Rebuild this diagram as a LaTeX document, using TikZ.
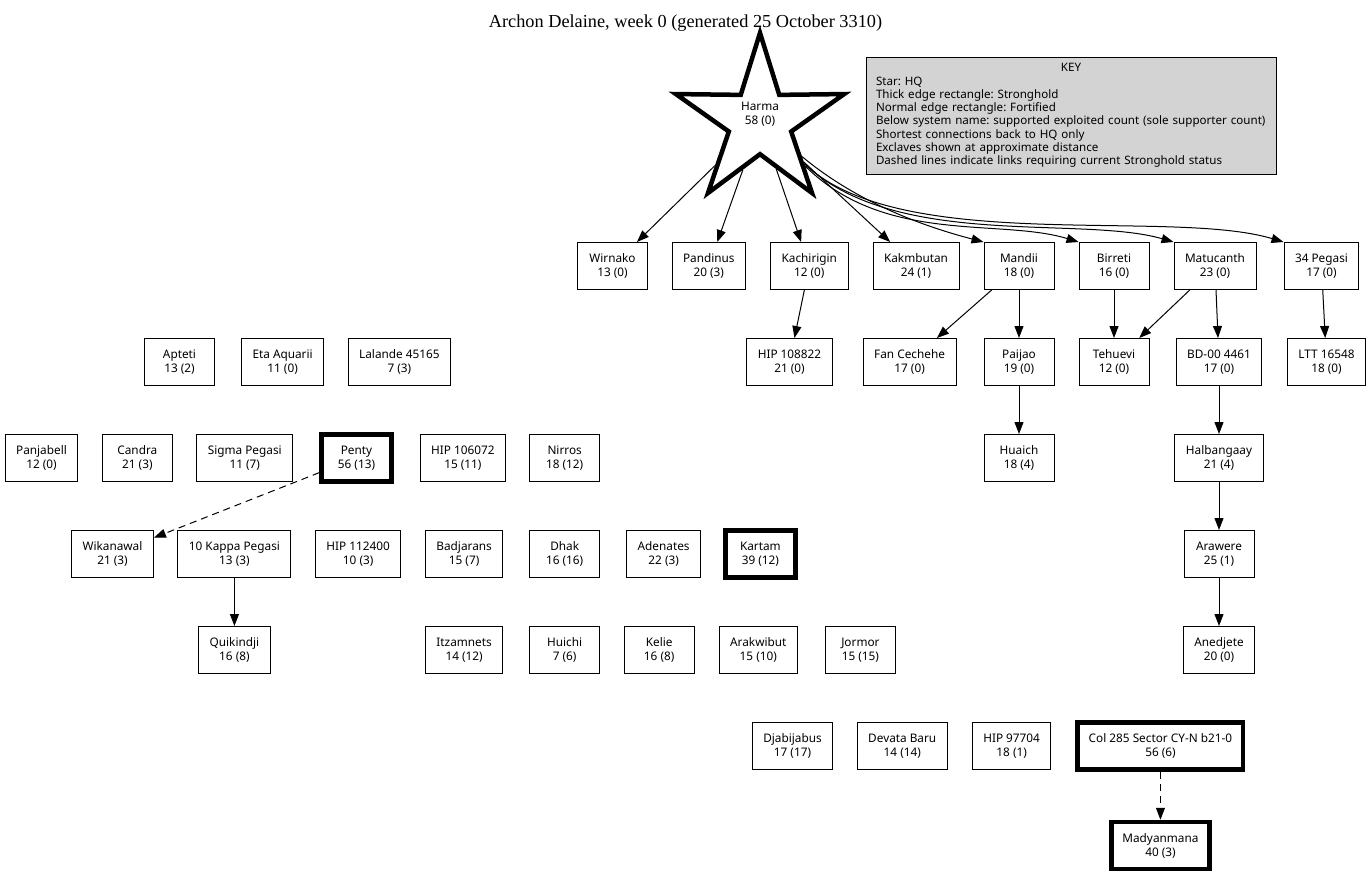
\documentclass[tikz,border=0pt]{standalone}
\usepackage{fontspec}
\setmainfont{Liberation Serif}
\newfontfamily\sysfamily{Noto Sans}
\usepackage{xcolor}
\usepackage{tikz}
\usetikzlibrary{arrows.meta,positioning,shapes.geometric}
\definecolor{keygray}{HTML}{D3D3D3}
\newcommand{\sysfont}{\sysfamily\fontsize{11.8}{14}\selectfont}
\newcommand{\keyfont}{\sysfamily\fontsize{11.6}{13.3}\selectfont\frenchspacing}
\tikzset{
    sysnode/.style={draw, line width=1pt, align=center, font=\sysfont, minimum width=70pt, minimum height=47pt, inner xsep=11pt, inner ysep=0pt},
    strongnode/.style={sysnode, line width=4.5pt},
    hqnode/.style={draw, star, star points=5, star point ratio=2.7, minimum size=177pt, inner sep=0pt, line width=4.5pt, font=\sysfont},
    keynode/.style={draw, line width=1pt, fill=keygray, font=\keyfont, text width=390pt, align=left, minimum width=410pt, minimum height=117pt, inner xsep=10pt, inner ysep=0pt},
    titlenode/.style={font=\fontsize{18.3}{22}\selectfont, inner sep=0pt},
    linkarrow/.style={-{Triangle[length=12pt, width=9pt]}, line width=1pt},
    strongarrow/.style={linkarrow, dash pattern=on 7pt off 5pt}
}

\begin{document}
\begin{tikzpicture}[x=1pt, y=-1pt, node distance=48pt and 24pt]
    \useasboundingbox (0,0) rectangle (1371,871);
    \node[titlenode, anchor=base] (title) at (685.5,27) {Archon Delaine, week 0 (generated 25 October 3310)};
    \node[hqnode] (harma) at (760,121.4) {\raisebox{3.4pt}[0pt][0pt]{\begin{tabular}{@{}c@{}}Harma\\58 (0)\end{tabular}}};
    \node[keynode] (key) at (1071,115.5) {{\centering KEY\par}Star: HQ\\Thick edge rectangle: Stronghold\\Normal edge rectangle: Fortified\\Below system name: supported exploited count (sole supporter count)\\Shortest connections back to HQ only\\Exclaves shown at approximate distance\\Dashed lines indicate links requiring current Stronghold status};

    \node[sysnode] (wirnako) at (612.5,266) {Wirnako\\13 (0)};
    \node[sysnode, right=23.5pt of wirnako] (pandinus) {Pandinus\\20 (3)};
    \node[sysnode, right=of pandinus] (kachirigin) {Kachirigin\\12 (0)};
    \node[sysnode, right=of kachirigin] (kakmbutan) {Kakmbutan\\24 (1)};
    \node[sysnode, right=of kakmbutan] (mandii) {Mandii\\18 (0)};
    \node[sysnode, right=of mandii] (birreti) {Birreti\\16 (0)};
    \node[sysnode, right=of birreti] (matucanth) {Matucanth\\23 (0)};
    \node[sysnode, right=27pt of matucanth] (pegasi34) {34 Pegasi\\17 (0)};

    \node[sysnode] (apteti) at (179.5,362) {Apteti\\13 (2)};
    \node[sysnode, right=26pt of apteti] (etaaquarii) {Eta Aquarii\\11 (0)};
    \node[sysnode, right=23.5pt of etaaquarii] (lalande) {Lalande 45165\\7 (3)};
    \node[sysnode] (hip108822) at (789.5,362) {HIP 108822\\21 (0)};
    \node[sysnode, below=of mandii] (paijao) {Paijao\\19 (0)};
    \node[sysnode, left=27pt of paijao] (fancechehe) {Fan Cechehe\\17 (0)};
    \node[sysnode, below=of birreti] (tehuevi) {Tehuevi\\12 (0)};
    \node[sysnode, below=of matucanth, xshift=4pt] (bd004461) {BD-00 4461\\17 (0)};
    \node[sysnode, below=of pegasi34, xshift=5pt] (ltt16548) {LTT 16548\\18 (0)};

    \node[sysnode] (panjabell) at (41.5,458) {Panjabell\\12 (0)};
    \node[sysnode, right=23.5pt of panjabell] (candra) {Candra\\21 (3)};
    \node[sysnode, right=23.5pt of candra] (sigmapegasi) {Sigma Pegasi\\11 (7)};
    \node[strongnode, right=26pt of sigmapegasi] (penty) {Penty\\56 (13)};
    \node[sysnode, right=26pt of penty] (hip106072) {HIP 106072\\15 (11)};
    \node[sysnode, right=23pt of hip106072] (nirros) {Nirros\\18 (12)};
    \node[sysnode, below=of paijao] (huaich) {Huaich\\18 (4)};
    \node[sysnode, below=of bd004461] (halbangaay) {Halbangaay\\21 (4)};

    \node[sysnode] (wikanawal) at (112.5,554) {Wikanawal\\21 (3)};
    \node[sysnode, right=23.5pt of wikanawal] (kappapegasi) {10 Kappa Pegasi\\13 (3)};
    \node[sysnode, right=23.5pt of kappapegasi] (hip112400) {HIP 112400\\10 (3)};
    \node[sysnode, right=23.5pt of hip112400] (badjarans) {Badjarans\\15 (7)};
    \node[sysnode, below=of nirros] (dhak) {Dhak\\16 (16)};
    \node[sysnode, right=26pt of dhak] (adenates) {Adenates\\22 (3)};
    \node[strongnode, right=22pt of adenates] (kartam) {Kartam\\39 (12)};
    \node[sysnode, below=of halbangaay] (arawere) {Arawere\\25 (1)};

    \node[sysnode, below=of kappapegasi] (quikindji) {Quikindji\\16 (8)};
    \node[sysnode, below=of badjarans] (itzamnets) {Itzamnets\\14 (12)};
    \node[sysnode, below=of dhak] (huichi) {Huichi\\7 (6)};
    \node[sysnode, right=23.5pt of huichi] (kelie) {Kelie\\16 (8)};
    \node[sysnode, right=of kelie] (arakwibut) {Arakwibut\\15 (10)};
    \node[sysnode, right=27pt of arakwibut] (jormor) {Jormor\\15 (15)};
    \node[sysnode, below=of arawere] (anedjete) {Anedjete\\20 (0)};

    \node[sysnode] (djabijabus) at (792.5,746) {Djabijabus\\17 (17)};
    \node[sysnode, right=23.5pt of djabijabus] (devatabaru) {Devata Baru\\14 (14)};
    \node[sysnode, right=of devatabaru] (hip97704) {HIP 97704\\18 (1)};
    \node[strongnode, right=of hip97704] (col285) {Col 285 Sector CY-N b21-0\\56 (6)};
    \node[strongnode, below=of col285] (madyanmana) {Madyanmana\\40 (3)};

    \draw[linkarrow] (harma) -- (wirnako);
    \draw[linkarrow] (harma) -- (pandinus);
    \draw[linkarrow] (harma) -- (kachirigin);
    \draw[linkarrow] (harma) -- (kakmbutan);
    \draw[linkarrow] (harma) .. controls (860,205) and (930,228) .. (mandii.north west);
    \draw[linkarrow] (harma) .. controls (885,245) and (1000,218) .. (birreti.north west);
    \draw[linkarrow] (harma) .. controls (895,250) and (1080,215) .. (matucanth.north west);
    \draw[linkarrow] (harma) .. controls (900,255) and (1170,208) .. (pegasi34.north west);
    \draw[linkarrow] (kachirigin) -- (hip108822);
    \draw[linkarrow] (mandii) -- (fancechehe);
    \draw[linkarrow] (mandii) -- (paijao);
    \draw[linkarrow] (birreti) -- (tehuevi);
    \draw[linkarrow] (matucanth) -- (tehuevi);
    \draw[linkarrow] (matucanth) -- (bd004461);
    \draw[linkarrow] (pegasi34) -- (ltt16548);
    \draw[linkarrow] (paijao) -- (huaich);
    \draw[linkarrow] (bd004461) -- (halbangaay);
    \draw[linkarrow] (halbangaay) -- (arawere);
    \draw[linkarrow] (arawere) -- (anedjete);
    \draw[strongarrow] (penty) -- (wikanawal);
    \draw[linkarrow] (kappapegasi) -- (quikindji);
    \draw[strongarrow] (col285) -- (madyanmana);
\end{tikzpicture}
\end{document}
